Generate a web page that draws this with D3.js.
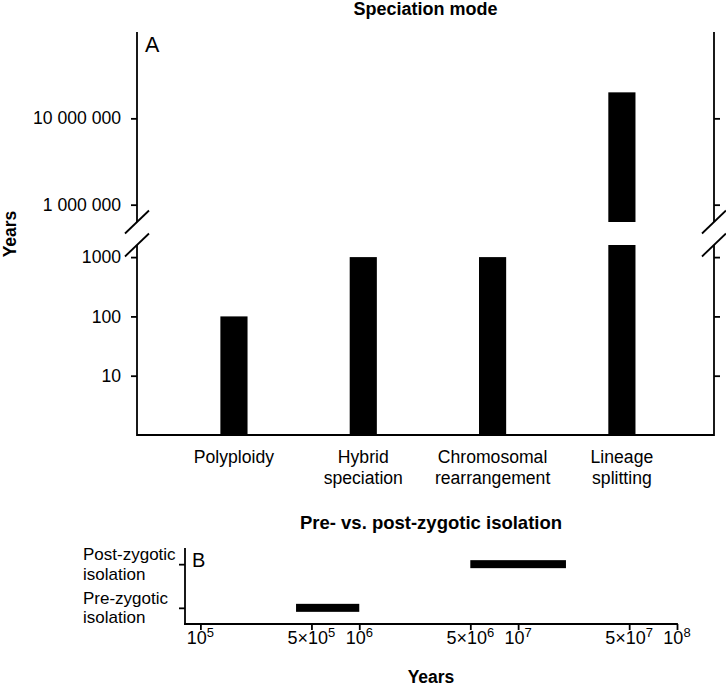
<!DOCTYPE html>
<html>
<head>
<meta charset="utf-8">
<script src="https://cdn.jsdelivr.net/npm/d3@7"></script>
<style>
  html, body { margin: 0; padding: 0; background: #fff; }
  svg { display: block; }
  text { font-family: "Liberation Sans", Arial, Helvetica, sans-serif; fill: #000; }
</style>
</head>
<body>
<script>
// ---------- Data ----------
const categories = ["Polyploidy", "Hybrid speciation", "Chromosomal rearrangement", "Lineage splitting"];
const categoryLines = [["Polyploidy"], ["Hybrid", "speciation"], ["Chromosomal", "rearrangement"], ["Lineage", "splitting"]];
const speciationYears = [100, 1000, 1000, 20000000];
const lowerTicks = [10, 100, 1000];
const lowerTickLabels = ["10", "100", "1000"];
const upperTicks = [1000000, 10000000];
const upperTickLabels = ["1 000 000", "10 000 000"];
const lowerDomain = [1, 1600];
const upperDomain = [630000, 100000000];

const isolationTypes = ["Pre-zygotic isolation", "Post-zygotic isolation"];
const isolationLines = [["Pre-zygotic", "isolation"], ["Post-zygotic", "isolation"]];
const isolationStart = [400000, 5000000];
const isolationEnd = [1000000, 20000000];
const isoTicks = [1e5, 5e5, 1e6, 5e6, 1e7, 5e7, 1e8];
const isoTickMantissa = ["", "5×", "", "5×", "", "5×", ""];
const isoTickExponent = ["5", "5", "6", "6", "7", "7", "8"];
const isoDomain = [80000, 100000000];

// ---------- Layout ----------
const W = 726, H = 688;
const svg = d3.select("body").append("svg").attr("width", W).attr("height", H);
const LW = 1.8;

// Panel A
const A = { left: 137, right: 714, top: 32, bottom: 435, breakHi: 222, breakLo: 245 };
const x = d3.scaleBand().domain(categories).range([A.left, A.right])
  .paddingInner(0.79).paddingOuter(0.626).align(0.515);
const yLow = d3.scaleLog().domain(lowerDomain).range([A.bottom, A.breakLo]);
const yUp = d3.scaleLog().domain(upperDomain).range([A.breakHi, A.top]);

const gA = svg.append("g");

// bars
categories.forEach((c, i) => {
  const v = speciationYears[i];
  const bx = x(c), bw = x.bandwidth();
  const lowTop = v > lowerDomain[1] ? yLow(lowerDomain[1]) : yLow(v);
  gA.append("rect").attr("x", bx).attr("width", bw)
    .attr("y", lowTop).attr("height", yLow(lowerDomain[0]) - lowTop).attr("fill", "#000");
  if (v > lowerDomain[1]) {
    gA.append("rect").attr("x", bx).attr("width", bw)
      .attr("y", yUp(v)).attr("height", yUp(upperDomain[0]) - yUp(v)).attr("fill", "#000");
  }
});

const axL = d3.axisLeft(yLow).tickValues(lowerTicks).tickFormat((d, i) => lowerTickLabels[i]).tickSize(6).tickPadding(10);
const axLU = d3.axisLeft(yUp).tickValues(upperTicks).tickFormat((d, i) => upperTickLabels[i]).tickSize(6).tickPadding(10);
const axR = d3.axisRight(yLow).tickValues(lowerTicks).tickFormat("").tickSize(6);
const axRU = d3.axisRight(yUp).tickValues(upperTicks).tickFormat("").tickSize(6);

function styleAxis(g) {
  g.select(".domain").remove();
  g.selectAll(".tick line").attr("stroke", "#000").attr("stroke-width", LW);
  g.selectAll(".tick text").style("font-size", "17.6px").attr("fill", "#000");
}
gA.append("g").attr("transform", `translate(${A.left},0)`).call(axL).call(styleAxis);
gA.append("g").attr("transform", `translate(${A.left},0)`).call(axLU).call(styleAxis);
gA.append("g").attr("transform", `translate(${A.right},0)`).call(axR).call(styleAxis);
gA.append("g").attr("transform", `translate(${A.right},0)`).call(axRU).call(styleAxis);

// axis lines with break
[A.left, A.right].forEach(ax => {
  gA.append("line").attr("x1", ax).attr("x2", ax).attr("y1", A.top).attr("y2", A.breakHi)
    .attr("stroke", "#000").attr("stroke-width", LW);
  gA.append("line").attr("x1", ax).attr("x2", ax).attr("y1", A.breakLo).attr("y2", A.bottom + LW / 2)
    .attr("stroke", "#000").attr("stroke-width", LW);
  [A.breakHi, A.breakLo].forEach(by => {
    gA.append("line").attr("x1", ax - 12).attr("y1", by + 11.5).attr("x2", ax + 12).attr("y2", by - 11.5)
      .attr("stroke", "#000").attr("stroke-width", LW);
  });
});
gA.append("line").attr("x1", A.left).attr("x2", A.right).attr("y1", A.bottom).attr("y2", A.bottom)
  .attr("stroke", "#000").attr("stroke-width", LW);

// category labels
categories.forEach((c, i) => {
  const cx = x(c) + x.bandwidth() / 2;
  const t = gA.append("text").attr("text-anchor", "middle").style("font-size", "17.6px");
  categoryLines[i].forEach((ln, j) => {
    t.append("tspan").attr("x", cx).attr("y", 463 + j * 20.5).text(ln);
  });
});

gA.append("text").attr("x", (A.left + A.right) / 2).attr("y", 15).attr("text-anchor", "middle")
  .style("font-size", "18px").attr("font-weight", "bold").text("Speciation mode");
gA.append("text").attr("x", A.left + 8).attr("y", 52).style("font-size", "21.5px").text("A");
gA.append("text").attr("transform", `translate(16,234) rotate(-90)`).attr("text-anchor", "middle")
  .style("font-size", "17.5px").attr("font-weight", "bold").text("Years");

// Panel B
const B = { left: 185, right: 677, top: 548, bottom: 624 };
const xB = d3.scaleLog().domain(isoDomain).range([B.left, B.right]);
const yB = d3.scalePoint().domain(isolationTypes).range([B.bottom, B.top]).padding(0.37);
const gB = svg.append("g");
const barH = 8;

isolationTypes.forEach((t, i) => {
  gB.append("rect").attr("x", xB(isolationStart[i])).attr("width", xB(isolationEnd[i]) - xB(isolationStart[i]))
    .attr("y", yB(t) - barH / 2).attr("height", barH).attr("fill", "#000");
});

const axBY = d3.axisLeft(yB).tickFormat("").tickSize(6);
gB.append("g").attr("transform", `translate(${B.left},0)`).call(axBY).call(styleAxis);
gB.append("line").attr("x1", B.left).attr("x2", B.left).attr("y1", B.top).attr("y2", B.bottom + LW / 2)
  .attr("stroke", "#000").attr("stroke-width", LW);
isolationTypes.forEach((t, i) => {
  const yc = yB(t);
  const txt = gB.append("text").style("font-size", "17px").attr("text-anchor", "start");
  isolationLines[i].forEach((ln, j) => {
    txt.append("tspan").attr("x", 83).attr("y", yc - 4 + j * 19.5).text(ln);
  });
});

const axBX = d3.axisBottom(xB).tickValues(isoTicks).tickFormat("").tickSize(6);
gB.append("g").attr("transform", `translate(0,${B.bottom})`).call(axBX).call(styleAxis);
gB.append("line").attr("x1", B.left - LW / 2).attr("x2", B.right + LW / 2).attr("y1", B.bottom).attr("y2", B.bottom)
  .attr("stroke", "#000").attr("stroke-width", LW);
isoTicks.forEach((v, i) => {
  const t = gB.append("text").attr("x", xB(v)).attr("y", 644).attr("text-anchor", "middle").style("font-size", "18px");
  t.append("tspan").text(isoTickMantissa[i] + "10");
  t.append("tspan").attr("dy", -7).style("font-size", "13px").text(isoTickExponent[i]);
});

gB.append("text").attr("x", (B.left + B.right) / 2).attr("y", 529).attr("text-anchor", "middle")
  .style("font-size", "18.5px").attr("font-weight", "bold").text("Pre- vs. post-zygotic isolation");
gB.append("text").attr("x", B.left + 7).attr("y", 567).style("font-size", "20px").text("B");
gB.append("text").attr("x", (B.left + B.right) / 2).attr("y", 683).attr("text-anchor", "middle")
  .style("font-size", "17.5px").attr("font-weight", "bold").text("Years");
</script>
</body>
</html>
